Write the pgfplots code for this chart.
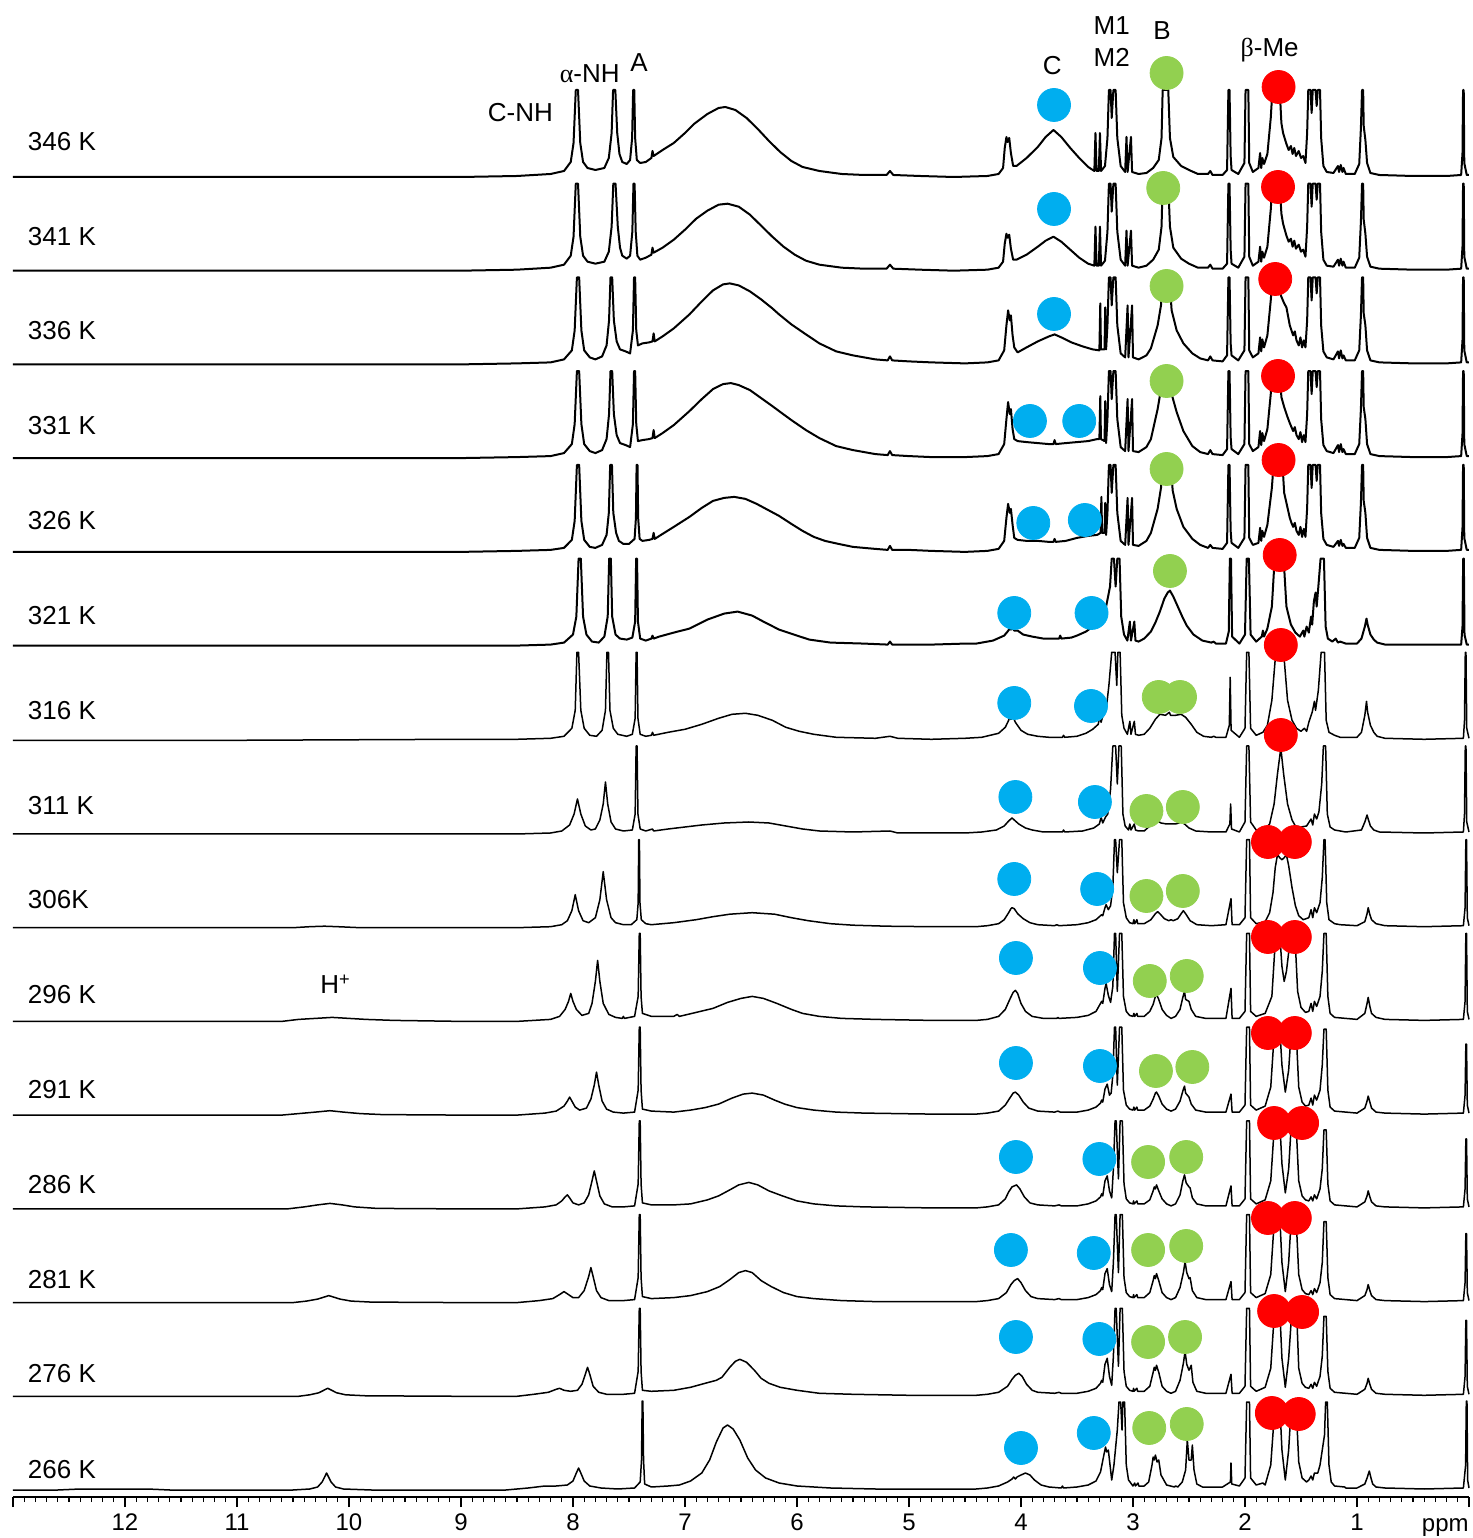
\documentclass[border=0pt]{standalone}
\usepackage{fontspec}
\setmainfont{Liberation Sans}
\newfontfamily\grk{Liberation Serif}
\usepackage{pgfplots}
\pgfplotsset{compat=1.18}
\usepackage{pgfplotstable}
\definecolor{cblue}{RGB}{0,174,239}
\definecolor{cgreen}{RGB}{146,208,80}
\definecolor{cred}{RGB}{255,0,0}
\newcommand\lbl{\fontsize{13}{15}\selectfont}
\newcommand\tkl{\fontsize{12}{14}\selectfont}
\begin{document}
% ---------------- 346 K ----------------
\pgfplotstableread[row sep=\\]{
x y\\
13 1\\ 11 1\\ 9 1\\ 8.5 2\\ 8.2 4\\ 8.08 7\\ 8.02 16\\ 7.995 35\\ 7.975 88\\ 7.955 88\\ 7.935 35\\ 7.91 16\\ 7.87 10\\ 7.80 8\\ 7.72 10\\ 7.68 20\\ 7.655 45\\ 7.642 88\\ 7.622 88\\ 7.605 45\\ 7.585 24\\ 7.56 16\\ 7.52 14\\ 7.49 18\\ 7.472 40\\ 7.463 88\\ 7.453 88\\ 7.445 40\\ 7.43 18\\ 7.40 15\\ 7.35 16\\ 7.30 20\\ 7.29 27\\ 7.28 22\\ 7.20 28\\ 7.10 35\\ 7.00 45\\ 6.92 54\\ 6.80 64\\ 6.70 70\\ 6.64 71\\ 6.55 68\\ 6.45 60\\ 6.35 49\\ 6.25 37\\ 6.15 26\\ 6.05 17\\ 5.95 11\\ 5.80 7\\ 5.60 4\\ 5.40 3\\ 5.20 3\\ 5.17 7\\ 5.14 3\\ 4.90 2\\ 4.60 1\\ 4.30 2\\
4.20 4\\ 4.16 10\\ 4.145 30\\ 4.13 41\\ 4.12 36\\ 4.105 40\\ 4.09 25\\ 4.07 12\\ 4.04 12\\ 3.95 20\\ 3.85 31\\ 3.78 41\\ 3.71 48\\ 3.64 41\\ 3.56 30\\ 3.48 20\\ 3.40 11\\ 3.345 7\\ 3.335 45\\ 3.325 7\\ 3.305 7\\ 3.295 45\\ 3.285 7\\ 3.25 12\\ 3.228 40\\ 3.215 88\\ 3.200 88\\ 3.19 60\\ 3.175 88\\ 3.155 88\\ 3.14 40\\ 3.11 12\\ 3.07 6\\ 3.058 41\\ 3.048 6\\ 3.018 41\\ 3.008 6\\ 2.95 4\\ 2.88 5\\ 2.82 10\\ 2.77 18\\ 2.745 40\\ 2.735 88\\ 2.685 88\\ 2.67 40\\ 2.64 21\\ 2.57 12\\ 2.50 8\\ 2.42 4\\ 2.33 4\\ 2.31 7\\ 2.29 3\\ 2.20 3\\ 2.16 8\\ 2.148 88\\ 2.138 88\\ 2.128 22\\ 2.12 8\\ 2.06 4\\ 2.005 15\\ 1.995 88\\ 1.970 88\\ 1.962 15\\ 1.93 6\\ 1.88 10\\ 1.865 25\\ 1.855 10\\ 1.845 20\\ 1.83 14\\ 1.80 24\\ 1.77 60\\ 1.755 88\\ 1.690 88\\ 1.675 55\\ 1.66 45\\ 1.63 34\\ 1.61 28\\ 1.59 32\\ 1.575 24\\ 1.56 30\\ 1.545 22\\ 1.52 27\\ 1.50 20\\ 1.48 22\\ 1.46 15\\ 1.445 45\\ 1.435 88\\ 1.415 88\\ 1.405 65\\ 1.395 88\\ 1.370 88\\ 1.36 72\\ 1.35 88\\ 1.330 88\\ 1.32 40\\ 1.30 12\\ 1.27 6\\ 1.21 5\\ 1.17 12\\ 1.16 6\\ 1.145 13\\ 1.13 6\\ 1.12 10\\ 1.10 4\\ 1.02 4\\ 0.98 14\\ 0.965 50\\ 0.955 88\\ 0.945 88\\ 0.94 52\\ 0.925 38\\ 0.91 15\\ 0.88 5\\ 0.80 3\\ 0.50 2\\ 0.20 2\\ 0.07 3\\ 0.058 25\\ 0.053 88\\ 0.047 88\\ 0.042 15\\ 0.02 3\\ 0 3\\
}\sA
% ---------------- 341 K ----------------
\pgfplotstableread[row sep=\\]{
x y\\
13 1\\ 11 1\\ 9 1\\ 8.5 2\\ 8.2 4\\ 8.08 7\\ 8.02 16\\ 7.995 35\\ 7.975 88\\ 7.955 88\\ 7.935 35\\ 7.91 16\\ 7.87 10\\ 7.80 8\\ 7.72 10\\ 7.68 20\\ 7.655 45\\ 7.640 88\\ 7.620 88\\ 7.600 45\\ 7.58 24\\ 7.56 16\\ 7.52 13\\ 7.49 16\\ 7.47 40\\ 7.460 88\\ 7.450 88\\ 7.44 40\\ 7.425 16\\ 7.40 12\\ 7.35 14\\ 7.30 17\\ 7.29 24\\ 7.28 19\\ 7.20 24\\ 7.10 32\\ 7.00 42\\ 6.90 53\\ 6.80 61\\ 6.70 67\\ 6.62 68\\ 6.52 65\\ 6.42 57\\ 6.32 46\\ 6.22 35\\ 6.12 25\\ 6.02 17\\ 5.92 11\\ 5.80 7\\ 5.60 4\\ 5.40 3\\ 5.20 3\\ 5.17 7\\ 5.14 3\\ 4.90 2\\ 4.60 1\\ 4.30 2\\
4.20 4\\ 4.16 10\\ 4.145 28\\ 4.13 38\\ 4.12 34\\ 4.105 37\\ 4.09 23\\ 4.07 12\\ 4.04 12\\ 3.95 17\\ 3.85 25\\ 3.78 31\\ 3.71 35\\ 3.64 30\\ 3.56 22\\ 3.48 14\\ 3.40 8\\ 3.345 6\\ 3.335 45\\ 3.325 6\\ 3.305 6\\ 3.295 45\\ 3.285 6\\ 3.25 11\\ 3.228 40\\ 3.215 88\\ 3.200 88\\ 3.19 60\\ 3.175 88\\ 3.155 88\\ 3.14 40\\ 3.11 12\\ 3.07 6\\ 3.058 41\\ 3.048 6\\ 3.018 41\\ 3.008 6\\ 2.95 4\\ 2.88 6\\ 2.82 12\\ 2.77 22\\ 2.745 45\\ 2.735 88\\ 2.685 88\\ 2.67 45\\ 2.64 24\\ 2.57 13\\ 2.50 8\\ 2.42 4\\ 2.33 4\\ 2.31 7\\ 2.29 3\\ 2.20 3\\ 2.16 8\\ 2.148 88\\ 2.138 88\\ 2.128 22\\ 2.12 8\\ 2.06 4\\ 2.005 15\\ 1.995 88\\ 1.970 88\\ 1.962 15\\ 1.93 6\\ 1.88 10\\ 1.865 25\\ 1.855 10\\ 1.845 20\\ 1.83 14\\ 1.80 25\\ 1.77 62\\ 1.755 88\\ 1.690 88\\ 1.675 58\\ 1.66 48\\ 1.63 36\\ 1.61 30\\ 1.59 33\\ 1.575 25\\ 1.56 31\\ 1.545 23\\ 1.52 27\\ 1.50 20\\ 1.48 22\\ 1.46 15\\ 1.445 45\\ 1.435 88\\ 1.415 88\\ 1.405 65\\ 1.395 88\\ 1.370 88\\ 1.36 72\\ 1.35 88\\ 1.330 88\\ 1.32 40\\ 1.30 12\\ 1.27 6\\ 1.21 5\\ 1.17 12\\ 1.16 6\\ 1.145 13\\ 1.13 6\\ 1.12 10\\ 1.10 4\\ 1.02 4\\ 0.98 14\\ 0.965 50\\ 0.955 88\\ 0.945 88\\ 0.94 52\\ 0.925 38\\ 0.91 15\\ 0.88 5\\ 0.80 3\\ 0.50 2\\ 0.20 2\\ 0.07 3\\ 0.058 25\\ 0.053 88\\ 0.047 88\\ 0.042 15\\ 0.02 3\\ 0 3\\
}\sB
% ---------------- 336 K ----------------
\pgfplotstableread[row sep=\\]{
x y\\
13 1\\ 11 1\\ 9 1\\ 8.5 2\\ 8.2 3\\ 8.08 6\\ 8.01 15\\ 7.985 35\\ 7.965 88\\ 7.945 88\\ 7.925 35\\ 7.90 15\\ 7.85 8\\ 7.80 6\\ 7.74 9\\ 7.70 20\\ 7.678 45\\ 7.665 88\\ 7.650 88\\ 7.635 45\\ 7.61 24\\ 7.58 16\\ 7.53 14\\ 7.49 12\\ 7.465 35\\ 7.455 88\\ 7.445 88\\ 7.435 35\\ 7.42 20\\ 7.38 22\\ 7.32 23\\ 7.29 24\\ 7.28 32\\ 7.27 24\\ 7.20 29\\ 7.10 37\\ 6.96 51\\ 6.85 64\\ 6.75 75\\ 6.66 81\\ 6.60 82\\ 6.52 80\\ 6.42 74\\ 6.32 66\\ 6.22 57\\ 6.16 51\\ 6.05 41\\ 5.92 31\\ 5.80 22\\ 5.65 14\\ 5.50 10\\ 5.30 6\\ 5.19 5\\ 5.17 9\\ 5.15 5\\ 5.00 4\\ 4.80 3\\ 4.50 2\\ 4.30 3\\
4.20 5\\ 4.15 15\\ 4.13 40\\ 4.115 55\\ 4.10 45\\ 4.09 50\\ 4.075 30\\ 4.06 18\\ 4.03 13\\ 3.95 18\\ 3.85 24\\ 3.75 29\\ 3.70 31\\ 3.64 28\\ 3.55 23\\ 3.45 19\\ 3.36 16\\ 3.30 15\\ 3.292 62\\ 3.286 16\\ 3.254 16\\ 3.248 58\\ 3.24 16\\ 3.228 40\\ 3.215 88\\ 3.200 88\\ 3.19 60\\ 3.175 88\\ 3.155 88\\ 3.14 40\\ 3.11 12\\ 3.07 8\\ 3.048 60\\ 3.040 8\\ 3.008 60\\ 3.000 8\\ 2.95 6\\ 2.88 10\\ 2.84 17\\ 2.78 40\\ 2.75 60\\ 2.735 88\\ 2.675 88\\ 2.655 55\\ 2.61 35\\ 2.55 22\\ 2.47 12\\ 2.40 7\\ 2.33 5\\ 2.31 9\\ 2.29 5\\ 2.20 4\\ 2.16 10\\ 2.148 88\\ 2.138 88\\ 2.128 22\\ 2.12 10\\ 2.06 5\\ 2.005 15\\ 1.995 88\\ 1.970 88\\ 1.962 15\\ 1.93 8\\ 1.88 12\\ 1.865 28\\ 1.855 14\\ 1.845 26\\ 1.83 18\\ 1.80 30\\ 1.77 65\\ 1.755 88\\ 1.700 88\\ 1.68 70\\ 1.65 62\\ 1.63 58\\ 1.60 40\\ 1.585 35\\ 1.57 30\\ 1.555 34\\ 1.54 25\\ 1.52 20\\ 1.505 28\\ 1.49 18\\ 1.475 25\\ 1.46 18\\ 1.445 45\\ 1.435 88\\ 1.415 88\\ 1.405 65\\ 1.395 88\\ 1.370 88\\ 1.36 72\\ 1.35 88\\ 1.330 88\\ 1.32 40\\ 1.30 14\\ 1.27 8\\ 1.21 6\\ 1.17 14\\ 1.16 7\\ 1.145 15\\ 1.13 7\\ 1.12 10\\ 1.10 5\\ 1.02 5\\ 0.98 15\\ 0.965 50\\ 0.955 88\\ 0.945 88\\ 0.94 52\\ 0.925 40\\ 0.91 15\\ 0.88 5\\ 0.80 3\\ 0.50 2\\ 0.20 2\\ 0.07 3\\ 0.058 25\\ 0.053 88\\ 0.047 88\\ 0.042 15\\ 0.02 3\\ 0 3\\
}\sC
% ---------------- 331 K ----------------
\pgfplotstableread[row sep=\\]{
x y\\
13 1\\ 11 1\\ 9 1\\ 8.5 2\\ 8.2 3\\ 8.08 6\\ 8.01 15\\ 7.985 35\\ 7.965 88\\ 7.945 88\\ 7.925 35\\ 7.90 15\\ 7.85 8\\ 7.80 6\\ 7.74 9\\ 7.70 20\\ 7.678 45\\ 7.665 88\\ 7.650 88\\ 7.635 45\\ 7.61 24\\ 7.58 16\\ 7.53 14\\ 7.49 12\\ 7.465 35\\ 7.455 88\\ 7.445 88\\ 7.435 35\\ 7.42 18\\ 7.38 19\\ 7.32 20\\ 7.29 21\\ 7.28 29\\ 7.27 21\\ 7.20 26\\ 7.10 34\\ 6.96 48\\ 6.85 60\\ 6.75 70\\ 6.66 75\\ 6.59 76\\ 6.52 74\\ 6.42 69\\ 6.32 61\\ 6.22 53\\ 6.16 48\\ 6.05 39\\ 5.92 29\\ 5.80 21\\ 5.65 13\\ 5.50 9\\ 5.30 5\\ 5.19 4\\ 5.17 8\\ 5.15 4\\ 5.00 3\\ 4.80 2\\ 4.50 2\\ 4.30 3\\
4.20 5\\ 4.15 15\\ 4.13 40\\ 4.115 57\\ 4.10 45\\ 4.09 50\\ 4.075 30\\ 4.06 20\\ 4.03 18\\ 3.95 17\\ 3.85 16\\ 3.75 15\\ 3.71 15\\ 3.70 19\\ 3.69 15\\ 3.60 16\\ 3.50 17\\ 3.40 18\\ 3.32 20\\ 3.30 20\\ 3.292 63\\ 3.286 20\\ 3.254 18\\ 3.248 58\\ 3.24 16\\ 3.228 40\\ 3.215 88\\ 3.200 88\\ 3.19 60\\ 3.175 88\\ 3.155 88\\ 3.14 40\\ 3.11 12\\ 3.07 8\\ 3.048 60\\ 3.040 8\\ 3.008 60\\ 3.000 8\\ 2.95 7\\ 2.88 12\\ 2.84 20\\ 2.78 50\\ 2.75 70\\ 2.735 88\\ 2.675 88\\ 2.655 65\\ 2.61 47\\ 2.55 28\\ 2.47 13\\ 2.40 7\\ 2.33 5\\ 2.31 9\\ 2.29 5\\ 2.20 4\\ 2.16 10\\ 2.148 88\\ 2.138 88\\ 2.128 22\\ 2.12 10\\ 2.06 5\\ 2.005 15\\ 1.995 88\\ 1.970 88\\ 1.962 15\\ 1.93 8\\ 1.88 12\\ 1.865 28\\ 1.855 14\\ 1.845 26\\ 1.83 18\\ 1.80 30\\ 1.77 65\\ 1.755 88\\ 1.690 88\\ 1.675 62\\ 1.65 52\\ 1.62 42\\ 1.60 36\\ 1.585 32\\ 1.57 28\\ 1.555 32\\ 1.54 24\\ 1.52 20\\ 1.505 27\\ 1.49 17\\ 1.475 24\\ 1.46 17\\ 1.445 45\\ 1.435 88\\ 1.415 88\\ 1.405 65\\ 1.395 88\\ 1.370 88\\ 1.36 72\\ 1.35 88\\ 1.330 88\\ 1.32 40\\ 1.30 14\\ 1.27 8\\ 1.21 6\\ 1.17 14\\ 1.16 7\\ 1.145 15\\ 1.13 7\\ 1.12 10\\ 1.10 5\\ 1.02 5\\ 0.98 15\\ 0.965 50\\ 0.955 88\\ 0.945 88\\ 0.94 52\\ 0.925 40\\ 0.91 15\\ 0.88 5\\ 0.80 3\\ 0.50 2\\ 0.20 2\\ 0.07 3\\ 0.058 25\\ 0.053 88\\ 0.047 88\\ 0.042 15\\ 0.02 3\\ 0 3\\
}\sD
% ---------------- 326 K ----------------
\pgfplotstableread[row sep=\\]{
x y\\
13 1\\ 11 1\\ 9 1\\ 8.5 2\\ 8.2 3\\ 8.08 5\\ 8.01 13\\ 7.985 32\\ 7.965 88\\ 7.945 88\\ 7.925 32\\ 7.90 13\\ 7.85 6\\ 7.80 5\\ 7.74 8\\ 7.70 18\\ 7.68 40\\ 7.668 88\\ 7.652 88\\ 7.64 40\\ 7.615 20\\ 7.59 12\\ 7.55 9\\ 7.50 9\\ 7.45 14\\ 7.438 35\\ 7.432 88\\ 7.424 88\\ 7.418 35\\ 7.405 14\\ 7.38 12\\ 7.32 13\\ 7.29 14\\ 7.28 20\\ 7.27 14\\ 7.20 19\\ 7.10 26\\ 6.96 36\\ 6.85 45\\ 6.75 52\\ 6.65 55\\ 6.56 56\\ 6.46 54\\ 6.36 49\\ 6.26 43\\ 6.16 37\\ 6.05 29\\ 5.95 22\\ 5.85 16\\ 5.75 12\\ 5.63 9\\ 5.50 6\\ 5.30 4\\ 5.19 3\\ 5.17 7\\ 5.15 3\\ 5.00 3\\ 4.80 2\\ 4.50 1\\ 4.30 2\\
4.20 4\\ 4.15 12\\ 4.13 35\\ 4.115 49\\ 4.10 40\\ 4.09 44\\ 4.075 28\\ 4.06 15\\ 4.03 13\\ 3.95 12\\ 3.85 12\\ 3.75 11\\ 3.71 11\\ 3.70 14\\ 3.69 11\\ 3.60 12\\ 3.50 15\\ 3.40 17\\ 3.32 18\\ 3.29 20\\ 3.282 56\\ 3.276 20\\ 3.254 20\\ 3.248 50\\ 3.24 18\\ 3.228 40\\ 3.215 88\\ 3.200 88\\ 3.19 60\\ 3.175 88\\ 3.155 88\\ 3.14 40\\ 3.11 12\\ 3.07 8\\ 3.048 55\\ 3.040 8\\ 3.008 55\\ 3.000 8\\ 2.95 7\\ 2.88 12\\ 2.84 20\\ 2.78 44\\ 2.75 65\\ 2.735 88\\ 2.665 88\\ 2.645 62\\ 2.61 44\\ 2.55 26\\ 2.47 14\\ 2.40 8\\ 2.33 5\\ 2.31 8\\ 2.29 5\\ 2.20 4\\ 2.16 10\\ 2.148 88\\ 2.138 88\\ 2.128 22\\ 2.12 10\\ 2.06 5\\ 2.005 15\\ 1.995 88\\ 1.970 88\\ 1.962 15\\ 1.93 8\\ 1.88 10\\ 1.865 25\\ 1.855 12\\ 1.845 22\\ 1.83 16\\ 1.80 28\\ 1.76 65\\ 1.745 88\\ 1.665 88\\ 1.65 60\\ 1.62 45\\ 1.60 35\\ 1.585 30\\ 1.57 26\\ 1.555 30\\ 1.54 22\\ 1.52 18\\ 1.505 26\\ 1.49 16\\ 1.475 24\\ 1.46 16\\ 1.445 45\\ 1.435 88\\ 1.415 88\\ 1.405 65\\ 1.395 88\\ 1.370 88\\ 1.36 72\\ 1.35 88\\ 1.330 88\\ 1.32 40\\ 1.30 14\\ 1.27 8\\ 1.21 6\\ 1.17 12\\ 1.16 7\\ 1.145 13\\ 1.13 7\\ 1.12 9\\ 1.10 5\\ 1.02 5\\ 0.98 15\\ 0.965 50\\ 0.955 88\\ 0.945 88\\ 0.94 52\\ 0.925 40\\ 0.91 15\\ 0.88 5\\ 0.80 3\\ 0.50 2\\ 0.20 2\\ 0.07 3\\ 0.058 25\\ 0.053 88\\ 0.047 88\\ 0.042 15\\ 0.02 3\\ 0 3\\
}\sE
% ---------------- 321 K ----------------
\pgfplotstableread[row sep=\\]{
x y\\
13 1\\ 11 1\\ 9 1\\ 8.5 1\\ 8.2 2\\ 8.08 4\\ 8.00 12\\ 7.97 30\\ 7.950 88\\ 7.930 88\\ 7.91 30\\ 7.88 12\\ 7.83 5\\ 7.77 4\\ 7.72 10\\ 7.69 30\\ 7.677 88\\ 7.662 88\\ 7.65 30\\ 7.62 12\\ 7.58 8\\ 7.52 7\\ 7.47 9\\ 7.445 25\\ 7.436 88\\ 7.428 88\\ 7.42 25\\ 7.40 8\\ 7.35 6\\ 7.30 8\\ 7.29 11\\ 7.28 8\\ 7.23 10\\ 7.10 14\\ 6.96 18\\ 6.80 27\\ 6.65 33\\ 6.53 35\\ 6.40 31\\ 6.30 25\\ 6.16 17\\ 6.00 11\\ 5.89 7\\ 5.70 4\\ 5.40 3\\ 5.19 2\\ 5.17 5\\ 5.15 2\\ 4.80 2\\ 4.50 3\\
4.40 3\\ 4.25 6\\ 4.15 11\\ 4.12 15\\ 4.10 18\\ 4.09 17\\ 4.08 19\\ 4.06 16\\ 4.03 16\\ 3.98 12\\ 3.90 10\\ 3.80 8\\ 3.70 8\\ 3.66 8\\ 3.65 11\\ 3.64 8\\ 3.55 9\\ 3.50 11\\ 3.42 15\\ 3.36 20\\ 3.30 24\\ 3.28 25\\ 3.26 28\\ 3.24 40\\ 3.205 60\\ 3.190 88\\ 3.170 88\\ 3.155 60\\ 3.140 88\\ 3.120 88\\ 3.105 30\\ 3.08 12\\ 3.05 6\\ 3.028 25\\ 3.018 6\\ 2.988 25\\ 2.978 6\\ 2.95 5\\ 2.90 8\\ 2.84 15\\ 2.80 24\\ 2.76 35\\ 2.72 48\\ 2.69 54\\ 2.67 56\\ 2.64 50\\ 2.60 40\\ 2.56 30\\ 2.52 21\\ 2.46 12\\ 2.38 6\\ 2.30 4\\ 2.28 5\\ 2.26 3\\ 2.17 3\\ 2.145 15\\ 2.135 88\\ 2.125 88\\ 2.115 10\\ 2.05 3\\ 2.000 12\\ 1.985 88\\ 1.965 88\\ 1.950 12\\ 1.90 5\\ 1.85 10\\ 1.84 16\\ 1.83 10\\ 1.80 18\\ 1.76 40\\ 1.735 88\\ 1.655 88\\ 1.63 40\\ 1.59 22\\ 1.55 14\\ 1.51 10\\ 1.48 16\\ 1.47 10\\ 1.45 20\\ 1.43 14\\ 1.41 30\\ 1.40 22\\ 1.385 45\\ 1.37 54\\ 1.36 40\\ 1.345 60\\ 1.325 88\\ 1.295 88\\ 1.280 20\\ 1.26 8\\ 1.22 5\\ 1.19 8\\ 1.17 4\\ 1.15 5\\ 1.10 3\\ 1.00 3\\ 0.96 8\\ 0.93 20\\ 0.915 28\\ 0.905 22\\ 0.88 12\\ 0.85 7\\ 0.82 4\\ 0.75 2\\ 0.40 2\\ 0.07 2\\ 0.058 20\\ 0.052 88\\ 0.046 88\\ 0.04 12\\ 0.02 2\\ 0 2\\
}\sF
% ---------------- 316 K ----------------
\pgfplotstableread[row sep=\\]{
x y\\
13 0\\ 11 0\\ 9 1\\ 8.5 1\\ 8.2 2\\ 8.08 4\\ 8.01 12\\ 7.98 30\\ 7.965 88\\ 7.950 88\\ 7.93 30\\ 7.90 12\\ 7.85 5\\ 7.79 4\\ 7.74 10\\ 7.71 30\\ 7.697 88\\ 7.683 88\\ 7.67 30\\ 7.64 12\\ 7.60 6\\ 7.52 4\\ 7.47 6\\ 7.445 22\\ 7.436 88\\ 7.428 88\\ 7.42 22\\ 7.40 6\\ 7.35 4\\ 7.30 5\\ 7.29 8\\ 7.28 5\\ 7.15 8\\ 7.00 11\\ 6.85 16\\ 6.70 22\\ 6.58 26\\ 6.46 27\\ 6.35 25\\ 6.22 20\\ 6.10 13\\ 5.98 9\\ 5.85 6\\ 5.65 3\\ 5.30 2\\ 5.17 4\\ 5.10 2\\ 4.80 1\\ 4.50 2\\
4.35 3\\ 4.20 7\\ 4.14 13\\ 4.11 20\\ 4.10 24\\ 4.09 21\\ 4.07 23\\ 4.05 18\\ 4.00 10\\ 3.94 6\\ 3.85 4\\ 3.75 3\\ 3.63 3\\ 3.62 5\\ 3.61 3\\ 3.50 4\\ 3.42 7\\ 3.36 11\\ 3.31 16\\ 3.295 25\\ 3.285 18\\ 3.265 26\\ 3.24 30\\ 3.215 55\\ 3.190 88\\ 3.160 88\\ 3.145 55\\ 3.135 88\\ 3.115 88\\ 3.100 25\\ 3.08 12\\ 3.05 6\\ 3.028 19\\ 3.018 6\\ 2.988 19\\ 2.978 6\\ 2.95 5\\ 2.90 6\\ 2.85 12\\ 2.80 21\\ 2.76 26\\ 2.71 25\\ 2.675 28\\ 2.665 25\\ 2.62 25\\ 2.57 26\\ 2.53 23\\ 2.48 16\\ 2.43 8\\ 2.37 4\\ 2.30 3\\ 2.28 4\\ 2.26 3\\ 2.17 3\\ 2.14 15\\ 2.132 63\\ 2.124 10\\ 2.05 3\\ 2.000 12\\ 1.985 88\\ 1.965 88\\ 1.950 12\\ 1.90 5\\ 1.84 8\\ 1.80 15\\ 1.76 40\\ 1.725 88\\ 1.655 88\\ 1.62 40\\ 1.58 20\\ 1.54 12\\ 1.50 9\\ 1.47 12\\ 1.45 9\\ 1.43 18\\ 1.40 28\\ 1.38 39\\ 1.37 30\\ 1.345 50\\ 1.320 88\\ 1.290 88\\ 1.275 20\\ 1.25 8\\ 1.20 5\\ 1.15 3\\ 1.00 3\\ 0.96 8\\ 0.93 25\\ 0.915 39\\ 0.905 28\\ 0.88 15\\ 0.85 8\\ 0.82 4\\ 0.75 2\\ 0.40 1\\ 0.05 2\\ 0.04 20\\ 0.033 88\\ 0.027 88\\ 0.02 12\\ 0 2\\
}\sG
% ---------------- 311 K ----------------
\pgfplotstableread[row sep=\\]{
x y\\
13 0\\ 11 0\\ 9 0\\ 8.5 0\\ 8.2 1\\ 8.1 3\\ 8.03 9\\ 7.99 20\\ 7.96 35\\ 7.93 20\\ 7.89 8\\ 7.84 4\\ 7.80 5\\ 7.76 14\\ 7.73 30\\ 7.71 52\\ 7.69 30\\ 7.66 12\\ 7.62 5\\ 7.55 3\\ 7.47 4\\ 7.445 20\\ 7.436 88\\ 7.428 88\\ 7.42 20\\ 7.40 5\\ 7.35 3\\ 7.29 5\\ 7.28 3\\ 7.15 5\\ 7.00 7\\ 6.85 9\\ 6.65 11\\ 6.43 12\\ 6.25 11\\ 6.10 8\\ 5.95 5\\ 5.80 3\\ 5.50 2\\ 5.17 3\\ 5.10 1\\ 4.80 1\\ 4.50 1\\
4.35 2\\ 4.22 4\\ 4.15 8\\ 4.11 13\\ 4.08 16\\ 4.06 14\\ 4.02 10\\ 3.96 6\\ 3.90 4\\ 3.80 2\\ 3.63 2\\ 3.62 4\\ 3.61 2\\ 3.45 3\\ 3.35 6\\ 3.30 10\\ 3.285 17\\ 3.27 11\\ 3.245 17\\ 3.225 20\\ 3.200 45\\ 3.180 88\\ 3.155 88\\ 3.140 50\\ 3.125 88\\ 3.105 88\\ 3.090 20\\ 3.07 8\\ 3.04 4\\ 3.028 10\\ 3.018 4\\ 2.988 10\\ 2.978 4\\ 2.95 3\\ 2.90 3\\ 2.85 8\\ 2.80 12\\ 2.78 13\\ 2.75 11\\ 2.70 10\\ 2.66 10\\ 2.62 10\\ 2.59 11\\ 2.57 12\\ 2.54 10\\ 2.50 6\\ 2.44 3\\ 2.30 2\\ 2.17 2\\ 2.135 10\\ 2.128 30\\ 2.12 5\\ 2.05 2\\ 2.000 12\\ 1.985 88\\ 1.965 88\\ 1.950 12\\ 1.90 4\\ 1.82 5\\ 1.78 10\\ 1.74 30\\ 1.71 60\\ 1.68 86\\ 1.655 60\\ 1.62 30\\ 1.58 14\\ 1.55 8\\ 1.50 7\\ 1.45 8\\ 1.41 15\\ 1.395 9\\ 1.38 20\\ 1.36 15\\ 1.34 22\\ 1.315 50\\ 1.300 88\\ 1.280 88\\ 1.265 20\\ 1.24 7\\ 1.20 4\\ 1.10 2\\ 0.96 4\\ 0.93 12\\ 0.91 19\\ 0.90 15\\ 0.88 8\\ 0.85 4\\ 0.80 2\\ 0.40 1\\ 0.05 2\\ 0.04 20\\ 0.033 88\\ 0.027 88\\ 0.02 12\\ 0 2\\
}\sH
% ---------------- 306 K ----------------
\pgfplotstableread[row sep=\\]{
x y\\
13 0\\ 11 0\\ 10.5 0\\ 10.35 1\\ 10.22 1.5\\ 10.1 1\\ 9.9 0\\ 8.5 0\\ 8.2 1\\ 8.10 3\\ 8.05 7\\ 8.01 17\\ 7.98 33\\ 7.95 17\\ 7.91 7\\ 7.86 5\\ 7.80 10\\ 7.76 28\\ 7.73 56\\ 7.70 28\\ 7.66 10\\ 7.62 5\\ 7.55 3\\ 7.48 3\\ 7.43 8\\ 7.418 25\\ 7.413 88\\ 7.407 88\\ 7.402 25\\ 7.39 8\\ 7.35 4\\ 7.30 3\\ 7.10 5\\ 6.90 8\\ 6.75 11\\ 6.60 13.5\\ 6.40 15\\ 6.20 13.5\\ 6.05 10\\ 5.90 7\\ 5.70 4\\ 5.50 2.5\\ 5.20 1.5\\ 4.80 1\\ 4.40 1\\
4.30 2\\ 4.20 4\\ 4.15 8\\ 4.11 15\\ 4.09 19\\ 4.08 20\\ 4.06 19\\ 4.03 14\\ 3.98 9\\ 3.92 5\\ 3.85 3\\ 3.70 2\\ 3.68 3\\ 3.66 2\\ 3.50 3\\ 3.40 5\\ 3.33 8\\ 3.29 12\\ 3.28 13\\ 3.27 12\\ 3.25 20\\ 3.24 23\\ 3.22 18\\ 3.20 22\\ 3.18 40\\ 3.165 88\\ 3.155 88\\ 3.14 55\\ 3.12 88\\ 3.10 88\\ 3.085 25\\ 3.06 10\\ 3.03 5\\ 3.00 4\\ 2.992 8\\ 2.985 4\\ 2.965 8\\ 2.958 4\\ 2.90 4\\ 2.84 8\\ 2.80 14\\ 2.78 16\\ 2.76 14\\ 2.72 9\\ 2.68 7\\ 2.66 8\\ 2.64 7\\ 2.60 9\\ 2.57 14\\ 2.55 17\\ 2.53 14\\ 2.49 7\\ 2.43 3\\ 2.30 2\\ 2.17 3\\ 2.125 29\\ 2.115 3\\ 2.05 3\\ 2.00 10\\ 1.985 88\\ 1.960 88\\ 1.95 10\\ 1.90 4\\ 1.82 6\\ 1.78 15\\ 1.75 35\\ 1.73 60\\ 1.71 73\\ 1.69 70\\ 1.67 68\\ 1.65 70\\ 1.63 73\\ 1.61 62\\ 1.58 40\\ 1.55 22\\ 1.52 12\\ 1.48 8\\ 1.43 10\\ 1.41 18\\ 1.395 10\\ 1.38 20\\ 1.36 15\\ 1.33 25\\ 1.31 50\\ 1.295 88\\ 1.285 88\\ 1.27 25\\ 1.25 8\\ 1.20 4\\ 1.15 3\\ 1.00 2\\ 0.93 6\\ 0.91 14\\ 0.90 20\\ 0.885 13\\ 0.87 8\\ 0.83 4\\ 0.75 2\\ 0.40 1\\ 0.05 2\\ 0.035 20\\ 0.028 88\\ 0.022 88\\ 0.015 10\\ 0 2\\
}\sI
% ---------------- 296 K ----------------
\pgfplotstableread[row sep=\\]{
x y\\
13 0\\ 11 0\\ 10.6 0\\ 10.45 2\\ 10.30 3\\ 10.15 4\\ 10.00 3\\ 9.85 2\\ 9.6 1\\ 9.0 0\\ 8.5 0\\ 8.2 2\\ 8.12 5\\ 8.07 12\\ 8.04 20\\ 8.02 28\\ 8.00 20\\ 7.97 12\\ 7.92 6\\ 7.86 8\\ 7.83 18\\ 7.80 40\\ 7.78 61\\ 7.76 40\\ 7.73 18\\ 7.68 7\\ 7.62 4\\ 7.56 3\\ 7.55 5\\ 7.54 3\\ 7.45 5\\ 7.418 25\\ 7.408 88\\ 7.400 88\\ 7.392 25\\ 7.38 8\\ 7.30 5\\ 7.10 5\\ 7.07 7\\ 7.05 5\\ 6.90 9\\ 6.75 13\\ 6.62 19\\ 6.50 23\\ 6.40 25\\ 6.30 23\\ 6.18 18\\ 6.05 12\\ 5.95 8\\ 5.80 5\\ 5.60 3\\ 5.30 2\\ 4.80 1\\ 4.40 1\\
4.30 2\\ 4.20 5\\ 4.14 12\\ 4.10 22\\ 4.07 29\\ 4.05 31\\ 4.03 28\\ 4.00 18\\ 3.96 10\\ 3.90 5\\ 3.80 3\\ 3.68 3\\ 3.67 4\\ 3.66 3\\ 3.50 4\\ 3.40 6\\ 3.33 10\\ 3.30 16\\ 3.28 20\\ 3.27 18\\ 3.25 33\\ 3.24 38\\ 3.22 26\\ 3.20 19\\ 3.18 35\\ 3.165 88\\ 3.155 88\\ 3.14 30\\ 3.12 88\\ 3.10 88\\ 3.085 25\\ 3.06 10\\ 3.03 6\\ 3.00 5\\ 2.992 8\\ 2.985 5\\ 2.965 8\\ 2.958 5\\ 2.90 5\\ 2.85 10\\ 2.82 17\\ 2.80 25\\ 2.79 27\\ 2.77 22\\ 2.74 12\\ 2.70 6\\ 2.66 3\\ 2.62 5\\ 2.58 12\\ 2.555 24\\ 2.54 30\\ 2.53 22\\ 2.50 20\\ 2.48 12\\ 2.44 5\\ 2.35 3\\ 2.17 3\\ 2.125 33\\ 2.115 3\\ 2.05 3\\ 2.00 10\\ 1.985 88\\ 1.960 88\\ 1.95 10\\ 1.90 5\\ 1.82 8\\ 1.76 25\\ 1.725 88\\ 1.690 88\\ 1.67 55\\ 1.65 40\\ 1.63 50\\ 1.59 88\\ 1.555 88\\ 1.53 30\\ 1.50 14\\ 1.46 9\\ 1.43 10\\ 1.41 18\\ 1.395 10\\ 1.38 20\\ 1.36 15\\ 1.33 25\\ 1.31 50\\ 1.295 88\\ 1.275 88\\ 1.26 25\\ 1.24 8\\ 1.20 4\\ 1.00 2\\ 0.93 8\\ 0.91 18\\ 0.90 24\\ 0.885 15\\ 0.87 8\\ 0.83 4\\ 0.75 2\\ 0.40 1\\ 0.05 2\\ 0.035 20\\ 0.028 88\\ 0.022 88\\ 0.015 10\\ 0 2\\
}\sJ
% ---------------- 291 K ----------------
\pgfplotstableread[row sep=\\]{
x y\\
13 0\\ 11 0\\ 10.6 0\\ 10.45 1.5\\ 10.30 3\\ 10.17 4.4\\ 10.05 3\\ 9.90 1.5\\ 9.70 0.5\\ 9.0 0\\ 8.5 0\\ 8.25 2\\ 8.15 4\\ 8.08 9\\ 8.05 14\\ 8.03 18\\ 8.01 14\\ 7.98 8\\ 7.94 5\\ 7.88 7\\ 7.84 16\\ 7.81 30\\ 7.79 43\\ 7.77 30\\ 7.74 14\\ 7.70 6\\ 7.64 3\\ 7.55 2\\ 7.45 3\\ 7.418 25\\ 7.408 88\\ 7.400 88\\ 7.392 25\\ 7.38 6\\ 7.30 4\\ 7.10 3\\ 6.95 5\\ 6.82 7.5\\ 6.70 11\\ 6.58 17\\ 6.48 21\\ 6.40 22\\ 6.30 20\\ 6.20 15\\ 6.11 11\\ 6.00 7.5\\ 5.85 5\\ 5.65 3\\ 5.40 2\\ 4.80 1\\ 4.40 1\\
4.30 2\\ 4.20 4\\ 4.14 10\\ 4.10 17\\ 4.07 22\\ 4.05 23\\ 4.02 20\\ 3.98 13\\ 3.93 7\\ 3.85 4\\ 3.70 3\\ 3.67 4\\ 3.65 3\\ 3.50 3\\ 3.40 5\\ 3.33 8\\ 3.29 12\\ 3.28 15\\ 3.27 13\\ 3.25 26\\ 3.23 31\\ 3.21 20\\ 3.195 22\\ 3.18 40\\ 3.165 88\\ 3.155 88\\ 3.14 30\\ 3.12 88\\ 3.10 88\\ 3.085 25\\ 3.06 10\\ 3.03 6\\ 3.00 5\\ 2.992 8\\ 2.985 5\\ 2.965 8\\ 2.958 5\\ 2.90 5\\ 2.85 9\\ 2.82 16\\ 2.80 22\\ 2.79 23\\ 2.77 19\\ 2.74 11\\ 2.70 6\\ 2.66 4\\ 2.62 6\\ 2.58 14\\ 2.555 24\\ 2.54 29\\ 2.53 22\\ 2.50 18\\ 2.48 11\\ 2.44 5\\ 2.35 3\\ 2.17 3\\ 2.125 21\\ 2.115 3\\ 2.05 3\\ 2.00 10\\ 1.985 88\\ 1.960 88\\ 1.95 10\\ 1.90 5\\ 1.82 9\\ 1.77 28\\ 1.735 88\\ 1.690 88\\ 1.67 50\\ 1.64 23\\ 1.61 45\\ 1.585 88\\ 1.545 88\\ 1.52 28\\ 1.49 13\\ 1.46 9\\ 1.43 10\\ 1.41 17\\ 1.395 10\\ 1.38 20\\ 1.36 15\\ 1.33 25\\ 1.31 50\\ 1.295 86\\ 1.275 86\\ 1.26 25\\ 1.24 8\\ 1.20 4\\ 1.00 2\\ 0.93 7\\ 0.91 14\\ 0.90 19\\ 0.885 13\\ 0.87 7\\ 0.83 3\\ 0.75 2\\ 0.40 1\\ 0.05 2\\ 0.035 20\\ 0.028 71\\ 0.022 71\\ 0.015 10\\ 0 2\\
}\sK
% ---------------- 286 K ----------------
\pgfplotstableread[row sep=\\]{
x y\\
13 0\\ 11 0\\ 10.55 0\\ 10.40 2\\ 10.28 4\\ 10.17 5.5\\ 10.06 4\\ 9.95 2\\ 9.75 0.5\\ 9.0 0\\ 8.5 0\\ 8.25 2\\ 8.15 4\\ 8.10 8\\ 8.07 12\\ 8.05 14\\ 8.03 11\\ 8.00 6\\ 7.95 4\\ 7.90 6\\ 7.86 14\\ 7.83 28\\ 7.81 38\\ 7.79 28\\ 7.76 13\\ 7.72 5\\ 7.65 2\\ 7.55 2\\ 7.45 3\\ 7.418 25\\ 7.408 88\\ 7.400 88\\ 7.392 25\\ 7.38 6\\ 7.30 4\\ 7.10 4\\ 6.95 5\\ 6.80 9\\ 6.70 13\\ 6.60 19\\ 6.52 24\\ 6.43 26.5\\ 6.35 24\\ 6.25 18\\ 6.13 13\\ 6.00 8\\ 5.85 5\\ 5.65 3\\ 5.40 2\\ 4.80 1\\ 4.40 1\\
4.30 2\\ 4.20 4\\ 4.14 10\\ 4.11 17\\ 4.08 22\\ 4.04 24\\ 4.01 20\\ 3.97 12\\ 3.92 6\\ 3.85 4\\ 3.70 3\\ 3.66 4\\ 3.64 3\\ 3.50 3\\ 3.40 5\\ 3.33 8\\ 3.29 12\\ 3.28 15\\ 3.27 13\\ 3.25 28\\ 3.23 33\\ 3.21 18\\ 3.19 11\\ 3.175 40\\ 3.160 88\\ 3.150 88\\ 3.13 30\\ 3.115 88\\ 3.095 88\\ 3.080 25\\ 3.06 10\\ 3.03 6\\ 3.00 5\\ 2.995 8\\ 2.990 5\\ 2.965 8\\ 2.958 5\\ 2.90 5\\ 2.85 9\\ 2.82 18\\ 2.81 22\\ 2.80 20\\ 2.79 24\\ 2.77 18\\ 2.74 10\\ 2.70 5\\ 2.66 3\\ 2.62 5\\ 2.58 14\\ 2.555 28\\ 2.54 34\\ 2.525 26\\ 2.50 22\\ 2.49 21\\ 2.47 11\\ 2.43 5\\ 2.35 3\\ 2.17 3\\ 2.125 23\\ 2.115 3\\ 2.05 3\\ 2.00 10\\ 1.985 88\\ 1.960 88\\ 1.95 10\\ 1.90 5\\ 1.82 9\\ 1.77 28\\ 1.735 88\\ 1.690 88\\ 1.67 45\\ 1.64 16\\ 1.61 40\\ 1.585 88\\ 1.545 88\\ 1.52 28\\ 1.49 13\\ 1.46 9\\ 1.43 8\\ 1.41 12\\ 1.395 8\\ 1.38 14\\ 1.36 10\\ 1.33 20\\ 1.31 40\\ 1.295 79\\ 1.275 79\\ 1.26 25\\ 1.24 8\\ 1.20 4\\ 1.00 2\\ 0.93 7\\ 0.91 13\\ 0.90 18\\ 0.885 12\\ 0.87 7\\ 0.83 3\\ 0.75 2\\ 0.40 1\\ 0.05 2\\ 0.035 20\\ 0.028 70\\ 0.022 70\\ 0.015 10\\ 0 2\\
}\sL
% ---------------- 281 K ----------------
\pgfplotstableread[row sep=\\]{
x y\\
13 0\\ 11 0\\ 10.50 0\\ 10.38 1.5\\ 10.28 3.5\\ 10.18 7\\ 10.08 3.5\\ 9.98 1.5\\ 9.80 0.5\\ 9.0 0\\ 8.5 0\\ 8.30 2\\ 8.18 4\\ 8.12 8\\ 8.08 11\\ 8.04 8\\ 8.00 5\\ 7.95 5\\ 7.90 12\\ 7.86 26\\ 7.84 35\\ 7.82 26\\ 7.79 12\\ 7.75 5\\ 7.68 2\\ 7.55 2\\ 7.45 3\\ 7.418 25\\ 7.408 88\\ 7.400 88\\ 7.392 25\\ 7.38 6\\ 7.30 4\\ 7.10 5\\ 6.95 7\\ 6.80 11\\ 6.69 16\\ 6.60 23\\ 6.52 30\\ 6.46 32\\ 6.40 30\\ 6.32 22\\ 6.23 16\\ 6.12 10\\ 6.00 6\\ 5.85 4\\ 5.60 2\\ 5.30 1\\ 4.80 1\\ 4.40 1\\
4.30 2\\ 4.20 4\\ 4.13 10\\ 4.09 18\\ 4.06 22\\ 4.03 24\\ 4.00 20\\ 3.96 12\\ 3.91 6\\ 3.85 4\\ 3.70 3\\ 3.66 4\\ 3.64 3\\ 3.50 3\\ 3.40 5\\ 3.33 8\\ 3.29 12\\ 3.28 15\\ 3.27 13\\ 3.25 29\\ 3.23 34\\ 3.21 18\\ 3.19 11\\ 3.175 40\\ 3.160 88\\ 3.150 88\\ 3.13 30\\ 3.115 88\\ 3.095 88\\ 3.080 25\\ 3.06 10\\ 3.03 6\\ 3.00 5\\ 2.995 8\\ 2.990 5\\ 2.965 8\\ 2.958 5\\ 2.90 5\\ 2.85 10\\ 2.82 22\\ 2.81 27\\ 2.80 24\\ 2.79 29\\ 2.77 22\\ 2.74 10\\ 2.70 5\\ 2.66 3\\ 2.62 5\\ 2.58 15\\ 2.55 30\\ 2.535 41\\ 2.52 30\\ 2.50 24\\ 2.49 25\\ 2.47 12\\ 2.43 5\\ 2.35 3\\ 2.17 3\\ 2.125 21\\ 2.115 3\\ 2.05 3\\ 2.00 10\\ 1.985 88\\ 1.960 88\\ 1.95 10\\ 1.90 5\\ 1.82 9\\ 1.77 28\\ 1.735 88\\ 1.690 88\\ 1.67 40\\ 1.64 11\\ 1.61 40\\ 1.585 88\\ 1.545 88\\ 1.52 28\\ 1.49 13\\ 1.46 9\\ 1.43 8\\ 1.41 12\\ 1.395 8\\ 1.38 14\\ 1.36 10\\ 1.33 20\\ 1.31 40\\ 1.295 81\\ 1.275 81\\ 1.26 25\\ 1.24 8\\ 1.20 4\\ 1.00 2\\ 0.93 7\\ 0.91 13\\ 0.90 18\\ 0.885 12\\ 0.87 7\\ 0.83 3\\ 0.75 2\\ 0.40 1\\ 0.05 2\\ 0.035 20\\ 0.028 69\\ 0.022 69\\ 0.015 10\\ 0 2\\
}\sM
% ---------------- 276 K ----------------
\pgfplotstableread[row sep=\\]{
x y\\
13 0\\ 11 0\\ 10.45 0\\ 10.35 1.5\\ 10.27 3.5\\ 10.19 8\\ 10.11 3.5\\ 10.03 1.5\\ 9.85 0.5\\ 9.0 0\\ 8.5 0\\ 8.35 2\\ 8.22 4\\ 8.15 7\\ 8.12 8\\ 8.08 6\\ 8.02 5\\ 7.96 6\\ 7.92 12\\ 7.89 22\\ 7.87 29\\ 7.85 22\\ 7.82 10\\ 7.77 4\\ 7.70 2\\ 7.55 2\\ 7.45 3\\ 7.418 25\\ 7.408 88\\ 7.400 88\\ 7.392 25\\ 7.38 6\\ 7.30 5\\ 7.10 6\\ 6.95 9\\ 6.82 13\\ 6.72 16\\ 6.67 19\\ 6.60 29\\ 6.55 35\\ 6.51 37\\ 6.45 34\\ 6.38 26\\ 6.32 18\\ 6.25 13\\ 6.15 9\\ 6.00 6\\ 5.80 3\\ 5.50 2\\ 5.00 1\\ 4.40 1\\
4.30 2\\ 4.20 4\\ 4.12 10\\ 4.08 17\\ 4.05 21\\ 4.02 23\\ 3.99 20\\ 3.95 12\\ 3.90 6\\ 3.85 4\\ 3.70 3\\ 3.66 4\\ 3.64 3\\ 3.50 3\\ 3.40 5\\ 3.33 8\\ 3.29 13\\ 3.28 16\\ 3.27 14\\ 3.25 32\\ 3.23 38\\ 3.21 20\\ 3.19 11\\ 3.175 40\\ 3.160 88\\ 3.150 88\\ 3.13 30\\ 3.115 88\\ 3.095 88\\ 3.080 25\\ 3.06 10\\ 3.03 6\\ 3.00 5\\ 2.995 8\\ 2.990 5\\ 2.965 8\\ 2.958 5\\ 2.90 5\\ 2.85 10\\ 2.82 24\\ 2.81 29\\ 2.80 26\\ 2.79 31\\ 2.77 24\\ 2.74 10\\ 2.70 5\\ 2.66 3\\ 2.62 5\\ 2.58 16\\ 2.55 33\\ 2.535 45\\ 2.52 32\\ 2.50 26\\ 2.48 31\\ 2.465 14\\ 2.43 5\\ 2.35 3\\ 2.17 3\\ 2.125 22\\ 2.115 3\\ 2.05 3\\ 2.00 10\\ 1.985 88\\ 1.960 88\\ 1.95 10\\ 1.90 5\\ 1.82 9\\ 1.77 28\\ 1.735 88\\ 1.690 88\\ 1.67 38\\ 1.64 9\\ 1.61 38\\ 1.580 88\\ 1.540 88\\ 1.52 28\\ 1.49 13\\ 1.46 9\\ 1.43 8\\ 1.41 12\\ 1.395 8\\ 1.38 14\\ 1.36 10\\ 1.33 20\\ 1.31 40\\ 1.295 80\\ 1.275 80\\ 1.26 25\\ 1.24 8\\ 1.20 4\\ 1.00 2\\ 0.93 7\\ 0.91 13\\ 0.90 18\\ 0.885 12\\ 0.87 7\\ 0.83 3\\ 0.75 2\\ 0.40 1\\ 0.05 2\\ 0.035 20\\ 0.028 76\\ 0.022 76\\ 0.015 10\\ 0 2\\
}\sN
% ---------------- 266 K ----------------
\pgfplotstableread[row sep=\\]{
x y\\
13 0\\ 12.6 0\\ 12.4 1\\ 11.8 1\\ 11.6 0\\ 10.5 0\\ 10.35 1\\ 10.28 3\\ 10.24 8\\ 10.20 17\\ 10.16 8\\ 10.12 3\\ 10.05 1\\ 9.8 0\\ 8.6 0\\ 8.40 2\\ 8.25 4\\ 8.15 4\\ 8.05 5\\ 8.00 9\\ 7.97 17\\ 7.95 22\\ 7.93 17\\ 7.90 9\\ 7.85 4\\ 7.75 2\\ 7.60 1\\ 7.45 2\\ 7.40 8\\ 7.388 30\\ 7.382 89\\ 7.376 89\\ 7.370 30\\ 7.36 6\\ 7.30 3\\ 7.15 4\\ 7.05 5\\ 6.95 9\\ 6.85 17\\ 6.78 30\\ 6.72 48\\ 6.66 62\\ 6.62 65\\ 6.57 61\\ 6.51 50\\ 6.44 32\\ 6.37 20\\ 6.28 12\\ 6.16 7\\ 6.00 4\\ 5.70 2\\ 5.30 1\\ 4.80 1\\ 4.40 1\\
4.30 2\\ 4.20 4\\ 4.12 8\\ 4.08 11\\ 4.065 13\\ 4.05 11\\ 4.035 13\\ 4.00 15\\ 3.96 17\\ 3.92 15\\ 3.88 10\\ 3.82 5\\ 3.75 3\\ 3.64 2\\ 3.63 4\\ 3.62 2\\ 3.50 3\\ 3.40 5\\ 3.33 9\\ 3.29 18\\ 3.26 35\\ 3.245 43\\ 3.235 38\\ 3.22 40\\ 3.205 25\\ 3.19 10\\ 3.17 25\\ 3.140 60\\ 3.125 88\\ 3.110 88\\ 3.098 60\\ 3.090 88\\ 3.075 88\\ 3.06 25\\ 3.04 10\\ 3.00 4\\ 2.985 7\\ 2.978 4\\ 2.955 7\\ 2.948 4\\ 2.90 4\\ 2.86 8\\ 2.83 25\\ 2.82 33\\ 2.81 30\\ 2.80 35\\ 2.785 28\\ 2.77 30\\ 2.75 15\\ 2.70 5\\ 2.63 3\\ 2.62 4\\ 2.60 3\\ 2.56 8\\ 2.53 20\\ 2.515 50\\ 2.50 30\\ 2.48 30\\ 2.47 45\\ 2.455 20\\ 2.43 6\\ 2.38 3\\ 2.20 3\\ 2.13 8\\ 2.125 27\\ 2.118 6\\ 2.05 4\\ 2.000 12\\ 1.985 88\\ 1.960 88\\ 1.950 12\\ 1.90 5\\ 1.84 7\\ 1.82 5\\ 1.77 25\\ 1.730 88\\ 1.690 88\\ 1.67 40\\ 1.64 10\\ 1.61 40\\ 1.585 88\\ 1.545 88\\ 1.52 28\\ 1.49 12\\ 1.45 8\\ 1.43 10\\ 1.41 14\\ 1.395 10\\ 1.38 17\\ 1.35 17\\ 1.33 25\\ 1.29 55\\ 1.280 88\\ 1.265 88\\ 1.25 25\\ 1.23 8\\ 1.20 4\\ 1.11 3\\ 1.10 2\\ 1.00 2\\ 0.93 6\\ 0.91 12\\ 0.89 19\\ 0.875 12\\ 0.86 6\\ 0.83 3\\ 0.75 2\\ 0.40 1\\ 0.05 2\\ 0.03 25\\ 0.024 89\\ 0.018 89\\ 0.012 10\\ 0 2\\
}\sO
\begin{tikzpicture}
\begin{axis}[
  x=56pt, y=0.5pt,
  xmin=0, xmax=13, ymin=0, ymax=1497,
  x dir=reverse,
  axis x line=bottom, axis y line=none,
  axis line style={-, line width=0.7pt},
  x axis line style={-},
  xtick={0,1,2,3,4,5,6,7,8,9,10,11,12,13},
  xticklabels={,1,2,3,4,5,6,7,8,9,10,11,12,},
  minor x tick num=9,
  tick align=outside,
  major tick length=5pt,
  minor tick length=2.5pt,
  every tick/.style={black, line width=0.6pt},
  xticklabel style={font=\tkl},
  clip=false,
  spec/.style={black, line width=1.0pt, line join=round, mark=none},
  specb/.style={black, line width=0.75pt, line join=round, mark=none},
]
\addplot[spec]  table[x=x, y expr=\thisrow{y}+1319]   {\sA};
\addplot[spec]  table[x=x, y expr=\thisrow{y}+1225.3] {\sB};
\addplot[spec]  table[x=x, y expr=\thisrow{y}+1131.6] {\sC};
\addplot[spec]  table[x=x, y expr=\thisrow{y}+1037.9] {\sD};
\addplot[spec]  table[x=x, y expr=\thisrow{y}+944.1]  {\sE};
\addplot[spec]  table[x=x, y expr=\thisrow{y}+850.4]  {\sF};
\addplot[specb] table[x=x, y expr=\thisrow{y}+756.7]  {\sG};
\addplot[specb] table[x=x, y expr=\thisrow{y}+663.0]  {\sH};
\addplot[specb] table[x=x, y expr=\thisrow{y}+569.3]  {\sI};
\addplot[specb] table[x=x, y expr=\thisrow{y}+475.6]  {\sJ};
\addplot[specb] table[x=x, y expr=\thisrow{y}+381.9]  {\sK};
\addplot[specb] table[x=x, y expr=\thisrow{y}+288.1]  {\sL};
\addplot[specb] table[x=x, y expr=\thisrow{y}+194.4]  {\sM};
\addplot[specb] table[x=x, y expr=\thisrow{y}+100.7]  {\sN};
\addplot[specb] table[x=x, y expr=\thisrow{y}+7]      {\sO};
% circles
\addplot[only marks, mark=*, mark size=8.25pt, mark options={draw=cblue, fill=cblue}] coordinates {
(3.705,1392) (3.705,1288) (3.705,1183) (3.92,1076) (3.48,1076) (3.89,974) (3.43,977)
(4.06,884) (3.37,884) (4.06,794) (3.375,791) (4.05,700) (3.34,695) (4.06,618) (3.32,608)
(4.045,539) (3.295,529) (4.045,434) (3.295,431) (4.045,340) (3.30,338) (4.09,247) (3.35,244)
(4.045,160) (3.30,158) (4.0,49) (3.35,64)};
\addplot[only marks, mark=*, mark size=8.25pt, mark options={draw=cgreen, fill=cgreen}] coordinates {
(2.70,1424) (2.73,1309) (2.70,1211) (2.70,1116) (2.70,1028) (2.67,926)
(2.77,800) (2.58,800) (2.88,686) (2.555,690) (2.88,601) (2.555,606) (2.85,516) (2.52,521)
(2.795,426) (2.47,430) (2.865,335) (2.525,340) (2.865,247) (2.525,251) (2.865,155) (2.535,160)
(2.855,69) (2.52,73)};
\addplot[only marks, mark=*, mark size=8.25pt, mark options={draw=cred, fill=cred}] coordinates {
(1.70,1410) (1.705,1310) (1.73,1218) (1.705,1121) (1.70,1037) (1.69,942) (1.68,852) (1.68,762)
(1.795,655) (1.555,655) (1.795,560) (1.555,560) (1.795,464) (1.555,464) (1.74,374) (1.49,374)
(1.795,279) (1.555,279) (1.74,186) (1.49,185) (1.76,84) (1.52,83)};
% temperature labels
\tikzset{tl/.style={anchor=base west, font=\lbl, inner sep=0pt}}
\node[tl] at (axis cs:12.87,1346) {346 K};
\node[tl] at (axis cs:12.87,1251) {341 K};
\node[tl] at (axis cs:12.87,1157) {336 K};
\node[tl] at (axis cs:12.87,1062) {331 K};
\node[tl] at (axis cs:12.87,967) {326 K};
\node[tl] at (axis cs:12.87,872) {321 K};
\node[tl] at (axis cs:12.87,777) {316 K};
\node[tl] at (axis cs:12.87,682) {311 K};
\node[tl] at (axis cs:12.87,588) {306K};
\node[tl] at (axis cs:12.87,493) {296 K};
\node[tl] at (axis cs:12.87,398) {291 K};
\node[tl] at (axis cs:12.87,303) {286 K};
\node[tl] at (axis cs:12.87,208) {281 K};
\node[tl] at (axis cs:12.87,114) {276 K};
\node[tl] at (axis cs:12.87,19) {266 K};
% peak labels
\node[anchor=base, font=\lbl] at (axis cs:8.47,1375) {C-NH};
\node[anchor=base, font=\lbl] at (axis cs:7.85,1414) {{\grk α}-NH};
\node[anchor=base, font=\lbl] at (axis cs:7.41,1425) {A};
\node[anchor=base, font=\lbl] at (axis cs:3.72,1422) {C};
\node[anchor=base, font=\lbl] at (axis cs:3.19,1462) {M1};
\node[anchor=base, font=\lbl] at (axis cs:3.19,1430) {M2};
\node[anchor=base, font=\lbl] at (axis cs:2.74,1457) {B};
\node[anchor=base, font=\lbl] at (axis cs:1.78,1440) {{\grk β}-Me};
\node[anchor=base, font=\lbl] at (axis cs:10.12,503) {H\textsuperscript{+}};
\node[anchor=base east, font=\tkl, inner sep=0pt] at (axis cs:0,-34) {ppm};
\end{axis}
\pgfresetboundingbox
\path[use as bounding box] ([shift={(-6.5pt,-20.5pt)}]current axis.south west) rectangle ([shift={(730pt,748.5pt)}]current axis.south west);
\end{tikzpicture}
\end{document}
